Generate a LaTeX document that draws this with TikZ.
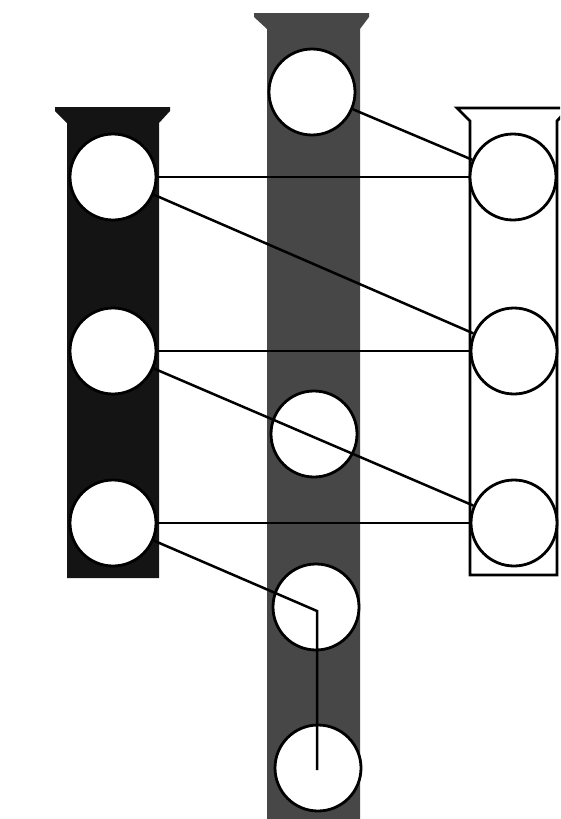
\documentclass[tikz,border=0pt]{standalone}
\begin{document}
\begin{tikzpicture}[x=1pt,y=-1pt,
  hole/.style={circle,fill=white,draw=black,line width=2.8pt,inner sep=0pt,minimum size=86pt},
  link/.style={draw=black,line width=2.5pt},
  darkcol/.style={fill=black!92,draw=none},
  graycol/.style={fill=black!72,draw=none},
  whitecol/.style={fill=white,draw=black,line width=2.8pt}]
\useasboundingbox (0,0) rectangle (560,819);
\fill[white] (0,0) rectangle (560,819);
\begin{scope}
\clip (0,0) rectangle (560,819);
% columns
\path[darkcol] (55,107) -- (170,107) -- (170,111) -- (159,123) -- (159,578) -- (67,578) -- (67,123) -- (55,111) -- cycle;
\path[graycol] (254,13) -- (369,13) -- (369,17) -- (360,29) -- (360,830) -- (267,830) -- (267,29) -- (254,17) -- cycle;
\path[whitecol] (457,108) -- (569,108) -- (557,121) -- (557,575) -- (470,575) -- (470,121) -- cycle;
% circles
\node[hole] (l1) at (113,177) {};
\node[hole] (l2) at (113,351) {};
\node[hole] (l3) at (113,523) {};
\node[hole] (m1) at (312,92) {};
\node[hole] (m3) at (314,434) {};
\node[hole] (m4) at (316,607) {};
\node[hole] (m5) at (318,768) {};
\node[hole] (r1) at (513,177) {};
\node[hole] (r2) at (514,351) {};
\node[hole] (r3) at (514,523) {};
\coordinate (bend) at (317,611);
\coordinate (tail) at (317,770);
% connectors
\draw[link] (l1) -- (r1);
\draw[link] (l1) -- (r2);
\draw[link] (l2) -- (r2);
\draw[link] (l2) -- (r3);
\draw[link] (l3) -- (r3);
\draw[link] (m1) -- (r1);
\draw[link] (l3) -- (bend) -- (tail);
\end{scope}
\end{tikzpicture}
\end{document}
